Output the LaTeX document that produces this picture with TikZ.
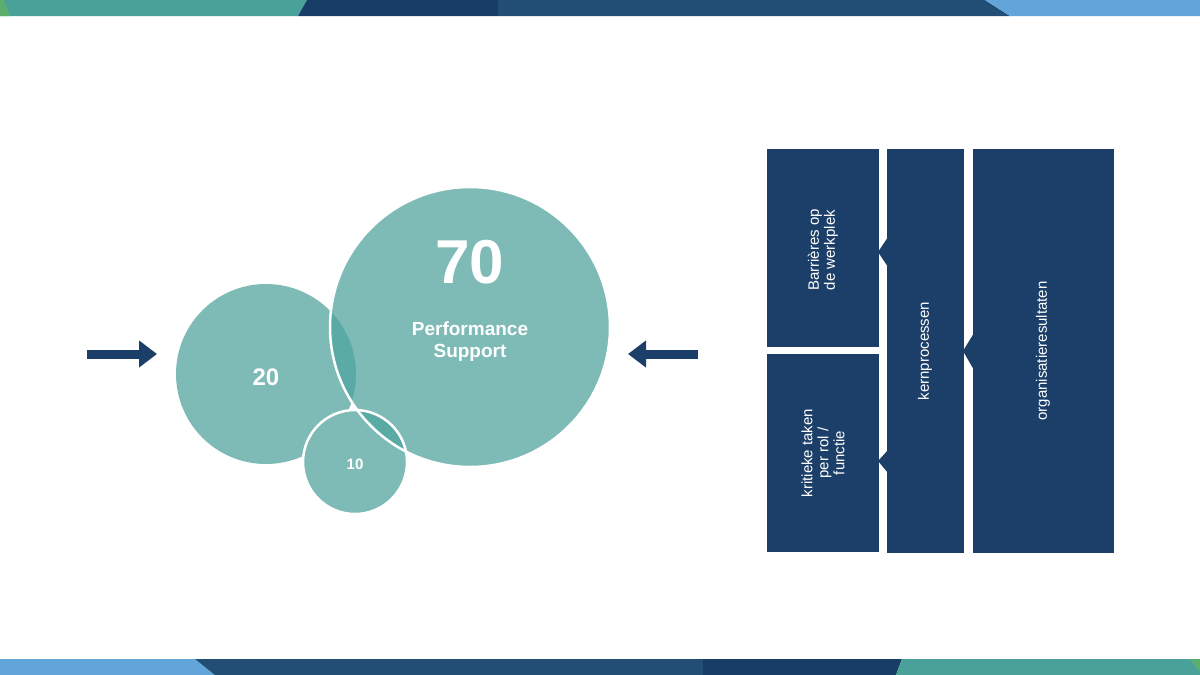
\documentclass[tikz,border=0pt]{standalone}
\usepackage{fontspec}
\setmainfont{Liberation Sans}
\usetikzlibrary{arrows.meta}
\definecolor{teal}{HTML}{7EBAB6}
\definecolor{tealdark}{HTML}{5AAAA5}
\definecolor{navy}{HTML}{1C3F69}
\definecolor{navymid}{HTML}{224D74}
\definecolor{navydeep}{HTML}{183E67}
\definecolor{bandteal}{HTML}{4AA19A}
\definecolor{bandblue}{HTML}{62A6D9}
\definecolor{bandgreen}{HTML}{5BAE6E}
\tikzset{
  blok/.style={fill=navy, draw=none},
  bloktekst/.style={rotate=90, text=white, font=\fontsize{15}{16}\selectfont, align=center},
  pijl/.style={draw=navy, line width=9pt, -{Triangle[length=18pt,width=26pt]}}
}
\begin{document}
\begin{tikzpicture}[x=1pt,y=-1pt]
\useasboundingbox (0,0) rectangle (1200,675);
% bands
\fill[bandteal] (0,0) -- (307,0) -- (298,16) -- (0,16) -- cycle;
\fill[bandgreen] (0,0) -- (4,0) -- (10,16) -- (0,16) -- cycle;
\fill[navydeep] (307,0) -- (498,0) -- (498,16) -- (298,16) -- cycle;
\fill[navymid] (498,0) -- (985,0) -- (1010,16) -- (498,16) -- cycle;
\fill[bandblue] (985,0) -- (1200,0) -- (1200,16) -- (1010,16) -- cycle;
\fill[bandblue] (0,659) -- (195,659) -- (215,675) -- (0,675) -- cycle;
\fill[navymid] (195,659) -- (703,659) -- (703,675) -- (215,675) -- cycle;
\fill[navydeep] (703,659) -- (902,659) -- (896,675) -- (703,675) -- cycle;
\fill[bandteal] (902,659) -- (1200,659) -- (1200,675) -- (896,675) -- cycle;
\fill[bandgreen] (1190,659) -- (1200,659) -- (1200,672) -- cycle;
% cirkels
\coordinate (c70) at (470,327);
\coordinate (c20) at (266,374);
\coordinate (c10) at (355,462);
\fill[teal] (c20) circle (90);
\fill[teal] (c70) circle (140);
\begin{scope}
  \clip (c20) circle (90);
  \fill[tealdark] (c70) circle (140);
\end{scope}
\draw[white, line width=2.5pt] (c70) circle (140);
\fill[teal] (c10) circle (52);
\begin{scope}
  \clip (c10) circle (52);
  \fill[tealdark] (c70) circle (140);
  \draw[white, line width=2.5pt] (c70) circle (140);
\end{scope}
\draw[white, line width=2.5pt] (c10) circle (52);
\node[text=white, font=\bfseries\fontsize{62}{62}\selectfont] (n70) at (470,262) {70};
\node[text=white, font=\bfseries\fontsize{19}{22}\selectfont, align=center] (ps) at (470,342) {Performance\\Support};
\node[text=white, font=\bfseries\fontsize{24}{24}\selectfont] (n20) at (266,377) {20};
\node[text=white, font=\bfseries\fontsize{15}{15}\selectfont] (n10) at (355,464) {10};
% pijlen
\coordinate (p1a) at (87,354);
\coordinate (p1b) at (157,354);
\coordinate (p2a) at (698,354);
\coordinate (p2b) at (628,354);
\draw[pijl] (p1a) -- (p1b);
\draw[pijl] (p2a) -- (p2b);
% blokken
\fill[blok] (767,149) rectangle (879,347);
\fill[blok] (767,354) rectangle (879,552);
\fill[blok] (887,149) rectangle (964,553);
\fill[blok] (973,149) rectangle (1114,553);
\fill[blok] (888,237) -- (878,252) -- (888,267) -- cycle;
\fill[blok] (888,450) -- (878,461) -- (888,473) -- cycle;
\fill[blok] (974,333) -- (963,351) -- (974,370) -- cycle;
\node[bloktekst] (bar) at (823,250) {Barrières op\\de werkplek};
\node[bloktekst] (kri) at (823,453) {kritieke taken\\per rol /\\functie};
\node[bloktekst] (ker) at (925,351) {kernprocessen};
\node[bloktekst] (org) at (1043,351) {organisatieresultaten};
\end{tikzpicture}
\end{document}
